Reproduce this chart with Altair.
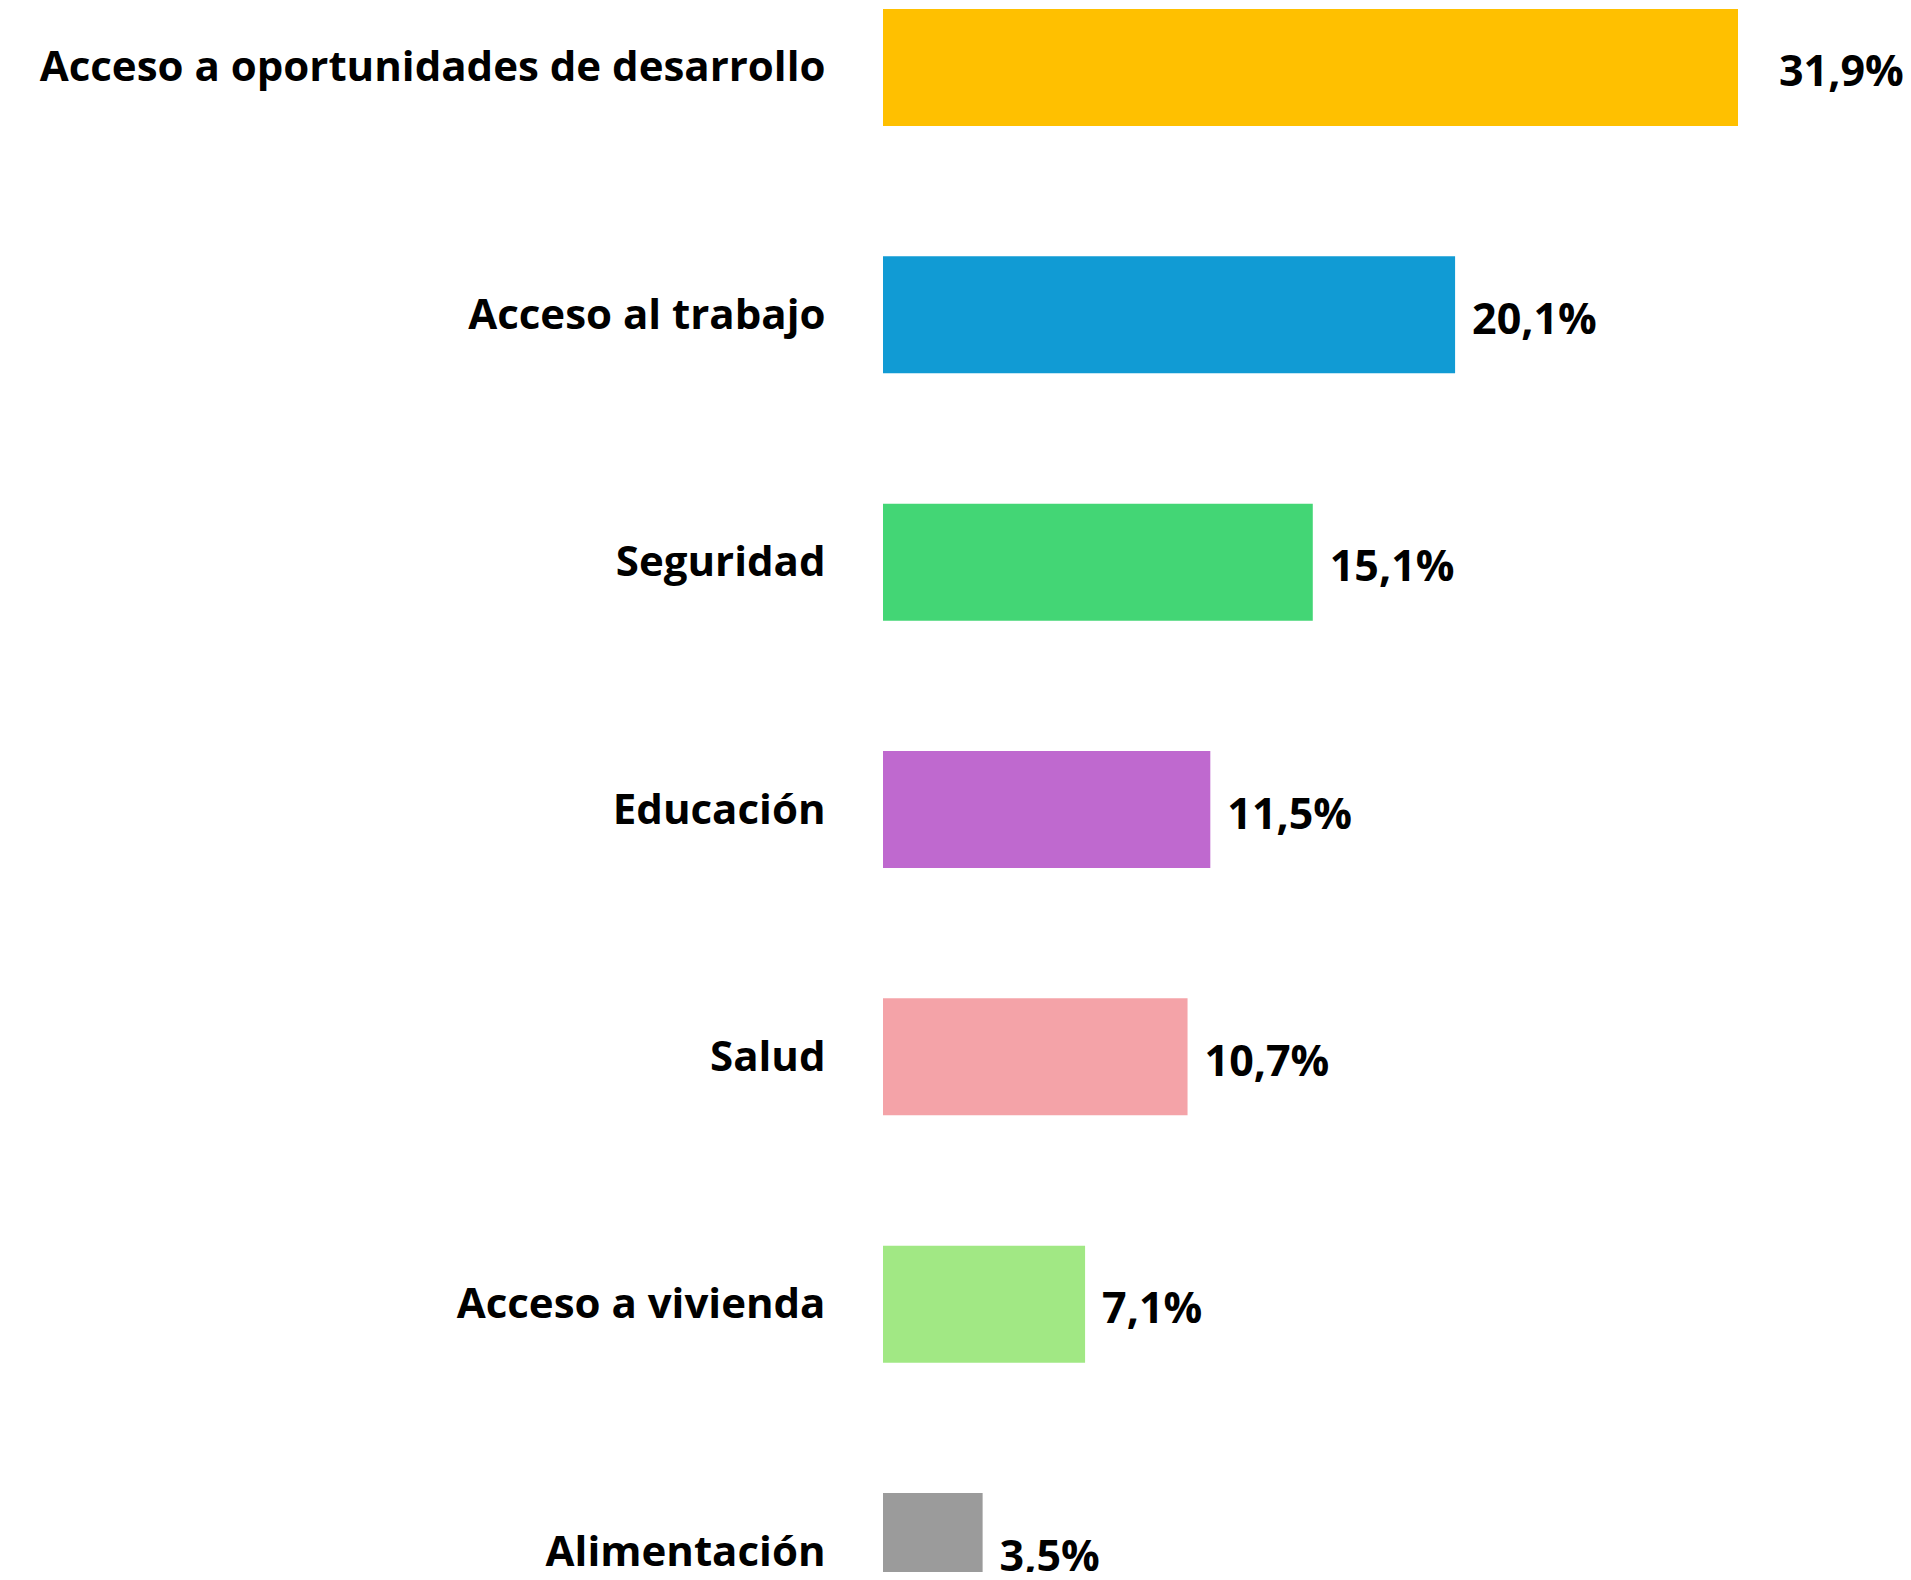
import altair as alt
import pandas as pd

categories = [
    "Acceso a oportunidades de desarrollo",
    "Acceso al trabajo",
    "Seguridad",
    "Educación",
    "Salud",
    "Acceso a vivienda\u00a0",
    "Alimentación",
]
values = [31.9, 20.1, 15.1, 11.5, 10.7, 7.1, 3.5]
colors = ["#FFC000", "#119BD4", "#43D675", "#BF69CF", "#F4A3A8", "#A1E884", "#9B9B9B"]
labels = [f"{v:.1f}".replace(".", ",") + "%" for v in values]

X_MAX = 30.04  # axis cap: longer bars are cut at the plot edge

df = pd.DataFrame({"cat": categories, "value": values, "label": labels})

FONT = "Open Sans"

base = alt.Chart(df).encode(
    y=alt.Y(
        "cat:N",
        sort=categories,
        scale=alt.Scale(paddingInner=0.527, paddingOuter=0, range=[0, 1601]),
        axis=alt.Axis(
            title=None,
            ticks=False,
            tickSize=0,
            domain=False,
            labelPadding=58,
            labelOffset=1,
            labelFont=FONT,
            labelFontWeight="bold",
            labelFontSize=42,
            labelColor="black",
            labelLimit=0,
        ),
    )
)

xenc = alt.X(
    "value:Q",
    scale=alt.Scale(domain=[0, X_MAX], clamp=True, nice=False, zero=True),
    axis=None,
)

bars = base.mark_bar().encode(
    x=xenc,
    color=alt.Color("cat:N", scale=alt.Scale(domain=categories, range=colors), legend=None),
)

text_style = dict(
    align="left",
    baseline="middle",
    dy=6,
    font=FONT,
    fontWeight="bold",
    fontSize=43,
    color="black",
)

text_in = (
    base.transform_filter(alt.datum.value <= X_MAX)
    .mark_text(dx=17, **text_style)
    .encode(x=xenc, text="label:N")
)
text_cut = (
    base.transform_filter(alt.datum.value > X_MAX)
    .mark_text(dx=41, **text_style)
    .encode(x=xenc, text="label:N")
)

chart = (
    alt.layer(bars, text_in, text_cut)
    .properties(
        width=855,
        height=1563,
        autosize=alt.AutoSizeParams(type="none"),
        padding={"left": 875, "top": 1, "right": 165, "bottom": 0},
    )
    .configure_view(stroke=None)
)

chart.save("out.html", embed_options={"renderer": "svg", "actions": False})
